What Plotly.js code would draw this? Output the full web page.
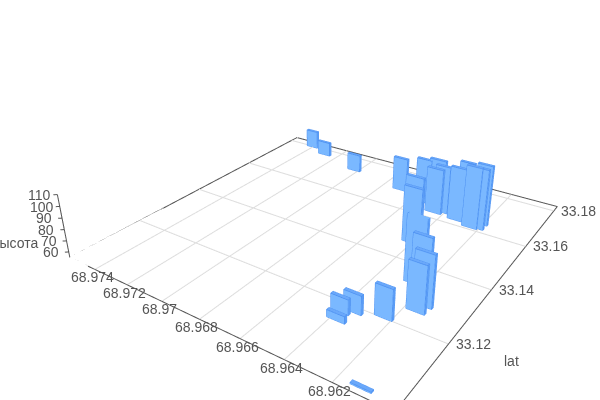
<!DOCTYPE html>
<html><head><meta charset="utf-8"><script src="https://cdn.plot.ly/plotly-3.0.1.min.js"></script></head>
<body style="margin:0;width:600px;height:400px;overflow:hidden;position:relative"><div id="c" style="position:absolute;left:0;top:-100px;width:660px;height:560px"></div>
<script>
// Buildings: front latitude, the two longitudes, roof height
const lats=[33.1017,33.1143,33.1168,33.1182,33.1199,33.1250,33.1274,33.1308,33.1331,33.1470,33.1519,33.1690,33.1724,33.1767,33.1794,33.1661,33.1665,33.1627,33.1639,33.1622,33.1661,33.1608,33.1613,33.1637];
const lonA=[68.96148,68.96413,68.96427,68.96388,68.96271,68.96191,68.96189,68.96235,68.96288,68.96448,68.96492,68.96740,68.97063,68.97320,68.97439,68.96580,68.96516,68.96491,68.96458,68.96367,68.96356,68.96281,68.96248,68.96252];
const lonB=[68.96067,68.96333,68.96349,68.96309,68.96195,68.96112,68.96106,68.96152,68.96198,68.96360,68.96404,68.96663,68.96986,68.97242,68.97367,68.96503,68.96431,68.96408,68.96384,68.96281,68.96284,68.96206,68.96178,68.96178];
const tops=[56,61,68,71,81,95,99,103,112,105,105,87,72,69,73,97,99,97,99,104,104,111,110,110];
const dLat=0.00078;
const latTicks=[33.12,33.14,33.16,33.18],lonTicks=[68.974,68.972,68.97,68.968,68.966,68.964,68.962],zTicks=[60,70,80,90,100,110];
const la0=33.1003,la1=33.1827,lo0=68.95965,lo1=68.97565,Z0=55,Z1=110;
const front='#7ab8ff',side='#5a9cf5',topc='#6aa8fa',edge='#4a8ef0';
const traces=lats.map((la,i)=>{const a=lonA[i],b=lonB[i],t=tops[i],l2=la+dLat;return{type:'mesh3d',
 x:[la,la,l2,l2,la,la,l2,l2],y:[a,b,b,a,a,b,b,a],z:[Z0,Z0,Z0,Z0,t,t,t,t],
 i:[0,0,4,4,0,0,1,1,2,2,3,3],j:[1,2,5,6,1,5,2,6,3,7,0,4],k:[2,3,6,7,5,4,6,5,7,6,4,7],
 facecolor:[front,front,topc,topc,front,front,side,side,front,front,side,side],flatshading:true,lighting:{ambient:1,diffuse:0,specular:0,fresnel:0},showscale:false}});
const ex=[],ey=[],ez=[];lats.forEach((la,i)=>{const a=lonA[i],b=lonB[i],t=tops[i],l2=la+dLat;
 const P=[[la,a,Z0],[la,b,Z0],[la,b,t],[la,a,t],[la,a,Z0],null,[la,a,t],[l2,a,t],[l2,b,t],[la,b,t],null,[la,b,Z0],[l2,b,Z0],[l2,b,t],null];
 P.forEach(q=>{ex.push(q?q[0]:null);ey.push(q?q[1]:null);ez.push(q?q[2]:null)})});
traces.push({type:'scatter3d',mode:'lines',x:ex,y:ey,z:ez,line:{color:edge,width:1.5},hoverinfo:'skip'});
const gx=[],gy=[],gz=[];latTicks.forEach(v=>{gx.push(v,v,null);gy.push(lo0,lo1,null);gz.push(Z0,Z0,null)});lonTicks.forEach(v=>{gx.push(la0,la1,null);gy.push(v,v,null);gz.push(Z0,Z0,null)});
traces.unshift({type:'scatter3d',mode:'lines',x:gx,y:gy,z:gz,line:{color:'#ddd',width:2},hoverinfo:'skip'});
traces.push({type:'scatter3d',mode:'lines',x:[la0,la1,la1,la0,la0],y:[lo1,lo1,lo0,lo0,lo1],z:[Z0,Z0,Z0,Z0,Z0],line:{color:'#555',width:2},hoverinfo:'skip'});
const zx=[la0,la0,null],zy=[lo1,lo1,null],zz=[Z0,Z1,null];zTicks.forEach(v=>{zx.push(la0,la0-.0005,null);zy.push(lo1,lo1+.00013,null);zz.push(v,v,null)});
traces.push({type:'scatter3d',mode:'lines',x:zx,y:zy,z:zz,line:{color:'#555',width:2},hoverinfo:'skip'});
const pad=.03,ann=(x,y,z,text,xs,ys)=>({x,y,z,text:String(text),showarrow:false,xshift:xs,yshift:ys,font:{size:14,color:'#555',family:'Liberation Sans'}});
const anns=[ann(33.12,lo0,Z0,'lat',63,-17),ann(la0,lo1,Z0,'высота',-55,15)];
latTicks.forEach(v=>anns.push(ann(v,lo0,Z0,v,25,0)));lonTicks.forEach(v=>anns.push(ann(la0,v,Z0,v,-2.5,-8)));zTicks.forEach(v=>anns.push(ann(la0,lo1,v,v,-18,0)));
const ax={title:{text:''},showticklabels:false,showgrid:false,showbackground:false,zeroline:false,showspikes:false,ticks:''};
const layout={width:660,height:560,margin:{l:0,r:0,t:0,b:0},showlegend:false,font:{family:'Liberation Sans',color:'#555',size:14},
 scene:{xaxis:{...ax,range:[la0-pad*(la1-la0),la1+pad*(la1-la0)]},yaxis:{...ax,range:[lo0-pad*(lo1-lo0),lo1+pad*(lo1-lo0)]},zaxis:{...ax,range:[Z0-pad*(Z1-Z0),Z1+pad*(Z1-Z0)]},
 aspectmode:'manual',aspectratio:{x:1+2*pad,y:.973*(1+2*pad),z:.1855*(1+2*pad)},camera:{eye:{x:-1.367,y:-.9244,z:.8657},center:{x:.0325,y:.0218,z:.0458},up:{x:0,y:0,z:1}},annotations:anns}};
Plotly.newPlot('c',traces,layout,{displayModeBar:false});
</script></body></html>
